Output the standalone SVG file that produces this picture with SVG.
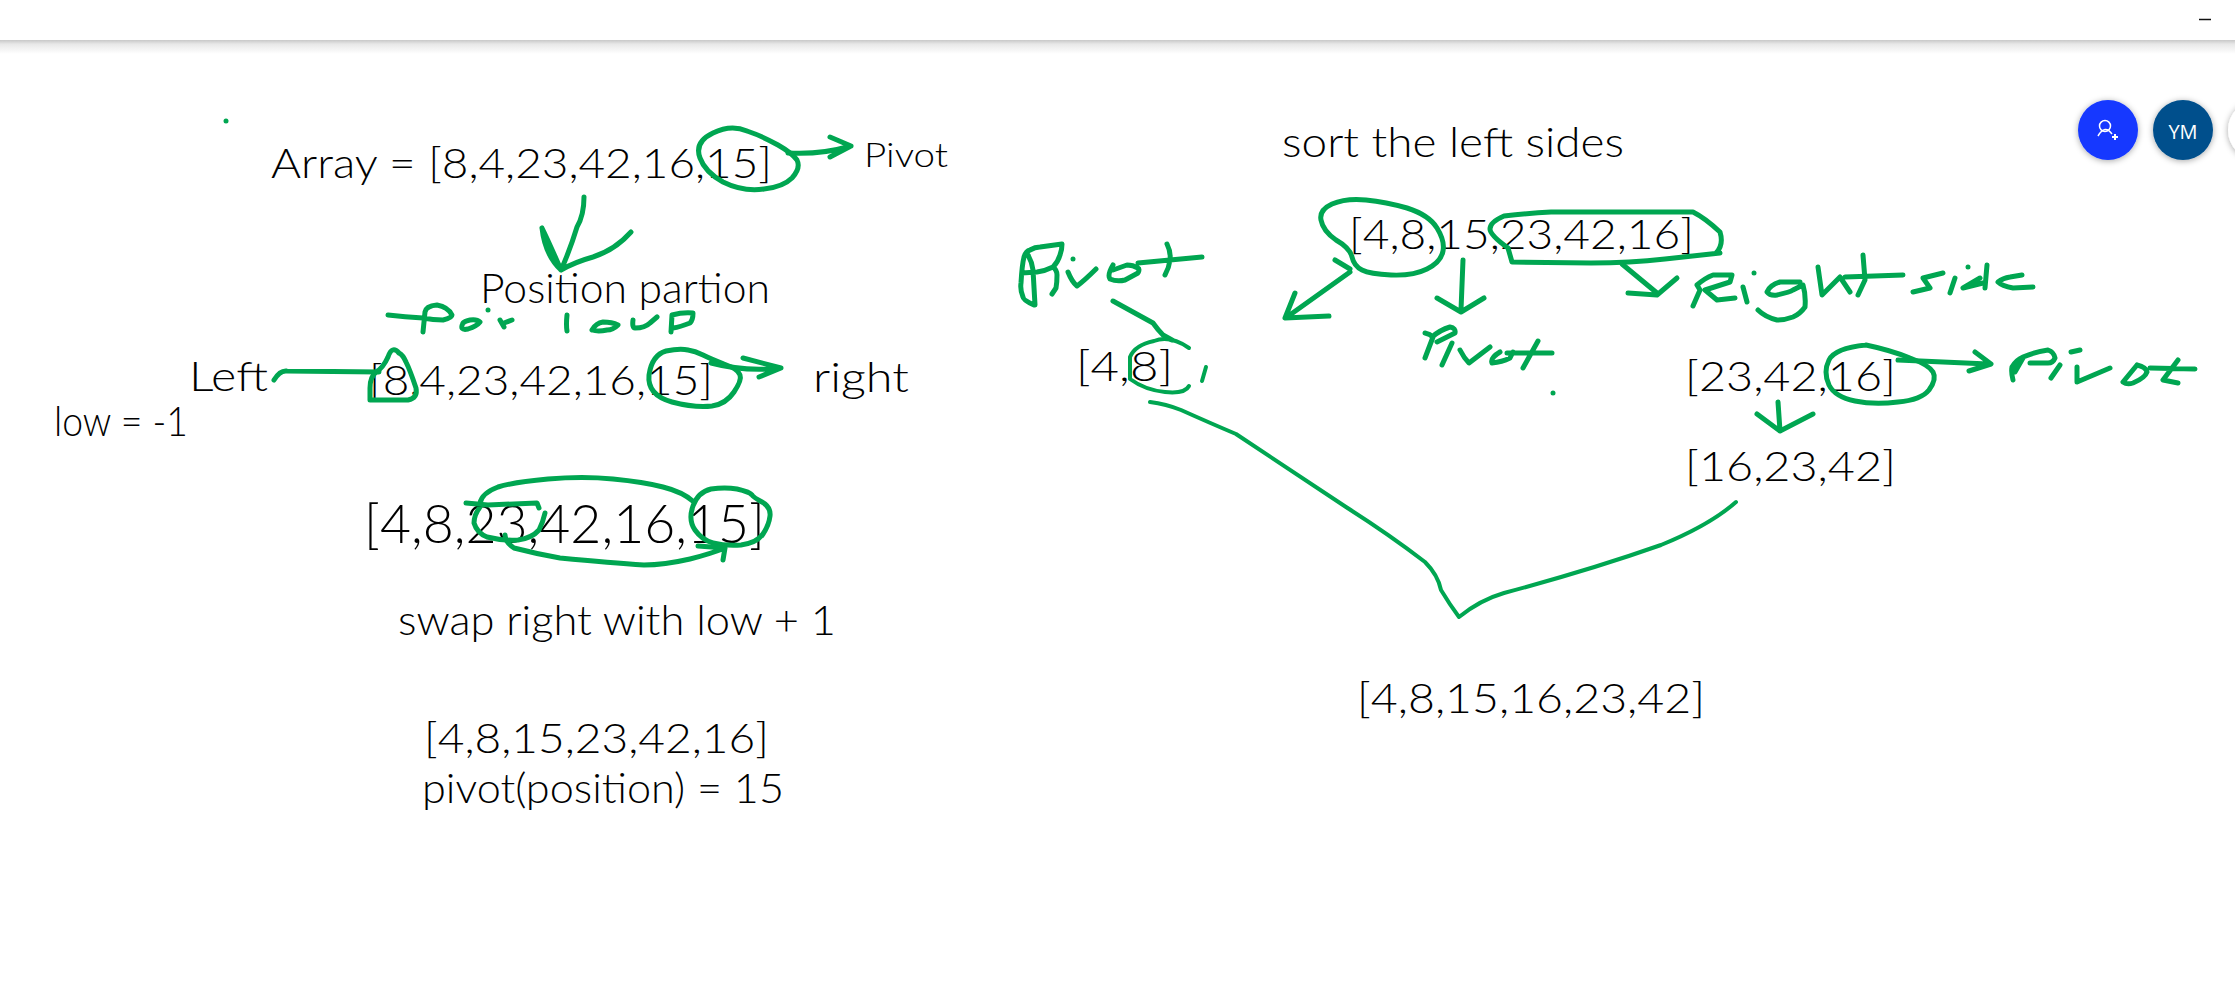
<svg xmlns="http://www.w3.org/2000/svg" width="2235" height="991" viewBox="0 0 2235 991">
<defs>
<linearGradient id="barShadow" x1="0" y1="0" x2="0" y2="1"><stop offset="0" stop-color="#c8c8c8"/><stop offset="0.3" stop-color="#e8e8e8"/><stop offset="1" stop-color="#ffffff"/></linearGradient>
<filter id="soft" x="-30%" y="-30%" width="160%" height="160%"><feDropShadow dx="0" dy="1" stdDeviation="3" flood-color="#000" flood-opacity="0.35"/></filter>
</defs>
<style>
text{font-family:"Lato","Liberation Sans",sans-serif;fill:#000;font-weight:300}
.t{font-size:42px}
.b{font-size:54px}
.ink{fill:none;stroke:#00a651;stroke-width:5;stroke-linecap:round;stroke-linejoin:round}
.thin{stroke-width:4}
.dot{fill:#00a651;stroke:none}
</style>
<rect width="2235" height="991" fill="#fff"/>
<g id="toolbar">
<rect x="0" y="40" width="2235" height="14" fill="url(#barShadow)"/>
<rect x="0" y="0" width="2235" height="40" fill="#fff"/>
<path d="M2199,19.500H2211" stroke="#111" stroke-width="1.500"/>
</g>
<g id="avatars">
<circle cx="2258" cy="130" r="30" fill="#fff" filter="url(#soft)"/>
<circle cx="2108" cy="130" r="30" fill="#1438ff" filter="url(#soft)"/>
<circle cx="2105" cy="126" r="5.500" fill="none" stroke="#fff" stroke-width="1.500"/>
<path d="M2098,136Q2105,124 2112,134" fill="none" stroke="#fff" stroke-width="1.500"/>
<path d="M2112,137H2118M2115,134V140" stroke="#fff" stroke-width="2"/>
<circle cx="2183" cy="130" r="30" fill="#03508c" filter="url(#soft)"/>
<text x="2183" y="139" text-anchor="middle" style="fill:#fff;font-size:20px;font-family:'Open Sans',sans-serif;font-weight:400">YM</text>
</g>
<g id="labels-left">
<text class="t" x="271" y="178" textLength="501" lengthAdjust="spacingAndGlyphs">Array = [8,4,23,42,16,15]</text>
<text class="t" style="font-size:34px" x="864" y="167" textLength="84" lengthAdjust="spacingAndGlyphs">Pivot</text>
<text class="t" x="480" y="303" textLength="290" lengthAdjust="spacingAndGlyphs">Position partion</text>
<text class="t" x="189" y="391" textLength="79" lengthAdjust="spacingAndGlyphs">Left</text>
<text class="t" x="369" y="395" textLength="344" lengthAdjust="spacingAndGlyphs">[8,4,23,42,16,15]</text>
<text class="t" x="813" y="392" textLength="96" lengthAdjust="spacingAndGlyphs">right</text>
<text class="t" x="54" y="436" textLength="134" lengthAdjust="spacingAndGlyphs">low = -1</text>
<text class="b" x="364" y="543" textLength="401" lengthAdjust="spacingAndGlyphs">[4,8,23,42,16,15]</text>
<text class="t" x="398" y="635" textLength="438" lengthAdjust="spacingAndGlyphs">swap right with low + 1</text>
<text class="t" x="424" y="753" textLength="345" lengthAdjust="spacingAndGlyphs">[4,8,15,23,42,16]</text>
<text class="t" x="422" y="803" textLength="362" lengthAdjust="spacingAndGlyphs">pivot(position) = 15</text>
</g>
<g id="labels-right">
<text class="t" x="1282" y="157" textLength="342" lengthAdjust="spacingAndGlyphs">sort the left sides</text>
<text class="t" x="1349" y="249" textLength="345" lengthAdjust="spacingAndGlyphs">[4,8,15,23,42,16]</text>
<text class="t" x="1076" y="381" textLength="97" lengthAdjust="spacingAndGlyphs">[4,8]</text>
<text class="t" x="1685" y="391" textLength="211" lengthAdjust="spacingAndGlyphs">[23,42,16]</text>
<text class="t" x="1685" y="481" textLength="211" lengthAdjust="spacingAndGlyphs">[16,23,42]</text>
<text class="t" x="1357" y="713" textLength="348" lengthAdjust="spacingAndGlyphs">[4,8,15,16,23,42]</text>
</g>
<g id="connectors" class="ink">
<circle class="dot" cx="226" cy="121" r="2.500"/>
<path d="M747,131Q731,124 713,133Q694,142 700,158Q705,172 723,182Q743,192 764,189Q783,187 792,178Q801,168 797,160Q792,153 778,145Q762,136 747,131"/>
<path d="M788,153Q820,155 851,146M830,137L851,146L830,157"/>
<path d="M584,197Q584,215 577,227Q570,250 561,270M542,228Q545,255 561,270Q548,240 542,228M561,270Q575,262 593,257Q615,250 631,232"/>
<path d="M388,315Q405,317 423,318Q433,320 443,320Q452,318 452,315Q448,307 437,305Q426,306 425,312L423,332M463,323Q459,331 468,329Q477,326 480,322Q477,319 470,320Q465,321 463,323M500,320L504,327M504,323L512,320M567,315Q566,325 567,331M592,330Q596,323 603,322Q612,322 618,325Q613,330 607,330Q598,332 592,330M633,320Q632,328 635,328Q645,328 650,323L657,317M671,332L672,315Q683,312 693,313Q693,320 690,323Q680,327 673,328"/>
<circle class="dot" cx="488" cy="310" r="2.500"/>
<path d="M274,380Q280,370 287,371L379,372"/>
<path d="M399,353Q392,345 388,357Q383,368 376,372Q370,377 370,388L370,400H408Q418,398 416,388Q410,370 406,362Q403,355 399,353"/>
<path d="M688,350Q680,348 666,351Q652,355 649,375Q647,395 672,402Q695,408 712,406Q726,404 734,392Q742,380 740,375Q738,369 724,364Q711,359 703,355Q695,351 688,350"/>
<path d="M711,363Q745,372 781,368M743,358L781,368L759,377"/>
<path d="M480,503Q482,493 498,487Q514,482 548,479Q583,476 613,479Q644,482 663,487Q683,492 694,502"/>
<path d="M466,503L488,505L537,503L539,508M480,507Q474,515 474,523Q477,533 487,537Q503,541 518,540Q532,538 539,530Q543,522 545,513"/>
<path d="M693,506Q698,492 711,489Q725,487 737,489Q750,492 752,495Q753,497 762,502Q771,507 770,516Q769,525 763,534Q757,543 741,545Q725,546 713,543Q702,540 695,530Q688,520 693,506"/>
<path d="M505,535Q505,542 514,548Q537,554 560,558Q612,563 644,565Q664,565 690,559Q710,554 725,548M698,546L725,548L723,560"/>
<path d="M1366,200Q1346,198 1332,204Q1319,210 1321,220Q1323,231 1336,240Q1350,248 1352,257Q1354,266 1362,270Q1370,274 1391,275Q1413,276 1427,269Q1441,262 1443,251Q1445,241 1437,228Q1429,215 1407,208Q1386,202 1366,200"/>
<path d="M1720,253L1665,259Q1630,263 1591,263L1512,262Q1510,255 1508,248Q1490,235 1490,229Q1490,222 1504,216Q1530,213 1551,212L1693,212Q1705,218 1720,232Q1724,245 1716,253"/>
<path d="M1335,260L1350,269M1350,272L1287,317M1295,293L1285,318L1329,316"/>
<path d="M1463,260L1461,310M1437,298L1461,312L1484,298"/>
<path d="M1622,264L1657,293M1677,278L1657,295L1628,293"/>
<path d="M1034,305Q1023,300 1023,297Q1020,290 1021,283Q1022,265 1024,257Q1026,251 1030,250Q1035,247 1040,247L1062,244Q1062,250 1060,255Q1058,262 1053,267Q1045,271 1037,272L1022,273M1028,255Q1032,262 1033,270L1035,305M1053,267Q1057,270 1057,275Q1057,283 1056,288L1052,294M1068,272Q1072,282 1077,286Q1085,280 1096,269M1113,265Q1107,275 1110,279Q1117,282 1125,280L1138,273Q1140,269 1138,268Q1133,265 1127,265L1113,270M1138,263L1202,257M1167,244Q1171,252 1170,260Q1169,268 1165,275"/>
<circle class="dot" cx="1073" cy="259" r="2.500"/>
<path d="M1113,301L1153,323Q1158,330 1163,335L1172,340"/>
<path class="thin" d="M1189,348Q1170,335 1154,341Q1135,345 1130,357V379Q1145,390 1165,392Q1185,394 1189,386M1206,367L1202,381"/>
<path class="thin" d="M1150,402Q1166,404 1181,410Q1210,423 1236,434L1346,507Q1390,535 1425,562Q1438,575 1441,590Q1450,605 1459,617Q1480,600 1504,593Q1590,570 1661,545Q1710,525 1736,502"/>
<path d="M1425,333Q1430,334 1433,337L1425,358M1432,337Q1440,330 1450,327Q1456,328 1455,333L1437,342M1452,343L1442,365M1460,350Q1464,358 1469,363L1490,347M1500,352Q1490,358 1492,363Q1502,362 1510,358L1513,352M1507,353L1552,353M1538,341L1523,368"/>
<circle class="dot" cx="1553" cy="393" r="2.500"/>
<path d="M1866,345Q1835,348 1829,360Q1823,372 1829,385Q1835,397 1855,401Q1874,405 1898,402Q1921,400 1929,390Q1937,379 1933,372Q1929,365 1910,358Q1890,350 1866,345"/>
<path d="M1898,360L1988,364M1975,352L1991,364L1969,371"/>
<path d="M2013,380Q2011,372 2012,367Q2016,360 2023,357Q2035,352 2048,350Q2054,352 2055,358Q2053,363 2048,363H2030M2023,358L2015,372M2051,378L2060,365M2071,352L2080,350M2077,367V382L2110,368M2137,365L2123,382Q2127,385 2133,383Q2145,378 2147,372Q2146,367 2137,365M2150,368L2195,369M2178,360L2163,380L2178,383"/>
<path d="M1693,306L1700,290L1697,285Q1705,278 1713,275H1732L1730,282L1705,290L1717,300L1735,298M1743,287L1747,302M1800,282H1780Q1770,285 1767,292Q1770,296 1777,295Q1790,292 1793,290L1803,285Q1806,295 1805,307Q1800,314 1793,317Q1785,320 1777,320Q1765,317 1758,310M1818,267L1822,295L1840,277L1850,292M1863,255L1865,280L1858,295M1845,277L1903,275M1943,273L1923,278L1930,288L1913,292M1955,278L1950,293M1987,265L1985,288M1980,278L1963,288L1983,283M2033,287L2013,288Q2002,286 1998,282Q2003,278 2010,277L2022,275"/>
<circle class="dot" cx="1754" cy="273" r="2.500"/>
<circle class="dot" cx="1968" cy="267" r="2.500"/>
<path d="M1778,402L1780,431M1757,414L1780,431L1813,414"/>
</g>
</svg>
